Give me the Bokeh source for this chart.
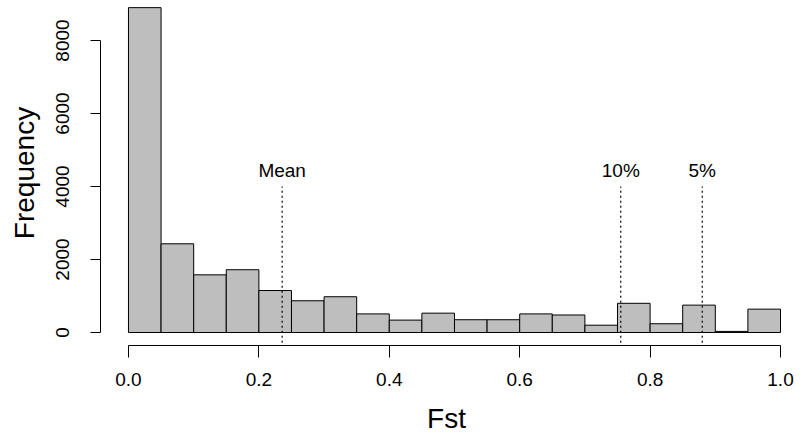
from bokeh.plotting import figure
from bokeh.models import FixedTicker, PrintfTickFormatter, ColumnDataSource, Range1d
from bokeh.core.properties import value
from bokeh.embed import file_html
from bokeh.resources import INLINE

# Histogram of Fst (bin width 0.05)
bin_left = [0.00, 0.05, 0.10, 0.15, 0.20, 0.25, 0.30, 0.35, 0.40, 0.45,
            0.50, 0.55, 0.60, 0.65, 0.70, 0.75, 0.80, 0.85, 0.90, 0.95]
bin_right = [0.05, 0.10, 0.15, 0.20, 0.25, 0.30, 0.35, 0.40, 0.45, 0.50,
             0.55, 0.60, 0.65, 0.70, 0.75, 0.80, 0.85, 0.90, 0.95, 1.00]
counts = [8900, 2430, 1580, 1720, 1150, 870, 980, 510, 340, 530,
          350, 350, 510, 480, 200, 800, 240, 750, 30, 640]

# Reference lines
ref_names = ["Mean", "10%", "5%"]
ref_x = [0.2357, 0.755, 0.880]
ref_top = [4000, 4000, 4000]
ref_bottom = [-280, -280, -280]

x_ticks = [0.0, 0.2, 0.4, 0.6, 0.8, 1.0]
y_ticks = [0, 2000, 4000, 6000, 8000]

FONT = "Liberation Sans"

p = figure(width=800, height=440, output_backend="svg", toolbar_location=None,
           x_range=Range1d(-0.0429, 1.0184), y_range=Range1d(-356, 9096),
           min_border_left=100, min_border_right=8, min_border_top=0,
           min_border_bottom=95)
p.outline_line_color = None
p.xgrid.visible = False
p.ygrid.visible = False
p.background_fill_color = "white"
p.border_fill_color = "white"

src = ColumnDataSource(dict(left=bin_left, right=bin_right, top=counts,
                            bottom=[0] * len(counts)))
p.quad(left="left", right="right", top="top", bottom="bottom", source=src,
       fill_color="#BEBEBE", line_color="black", line_width=1)

lsrc = ColumnDataSource(dict(x=ref_x, y0=ref_bottom, y1=ref_top, name=ref_names))
p.segment(x0="x", y0="y0", x1="x", y1="y1", source=lsrc, line_color="black",
          line_width=1.2, line_dash="2 3")
p.text(x="x", y="y1", text="name", source=lsrc, text_align="center",
       text_baseline="alphabetic", y_offset=-16, text_font=value(FONT),
       text_font_size="19px", text_color="black")

for ax in (p.xaxis[0], p.yaxis[0]):
    ax.axis_line_color = "black"
    ax.major_tick_line_color = "black"
    ax.minor_tick_line_color = None
    ax.major_tick_in = 0
    ax.major_label_text_font = FONT
    ax.major_label_text_font_size = "19px"
    ax.major_label_text_color = "black"
    ax.axis_label_text_font = FONT
    ax.axis_label_text_font_style = "normal"
    ax.axis_label_text_font_size = "28px"
    ax.axis_label_text_color = "black"

xa = p.xaxis[0]
xa.ticker = FixedTicker(ticks=x_ticks)
xa.formatter = PrintfTickFormatter(format="%.1f")
xa.bounds = (0, 1)
xa.major_tick_out = 12
xa.major_label_standoff = 15
xa.axis_label = "Fst"
xa.axis_label_standoff = 14

ya = p.yaxis[0]
ya.ticker = FixedTicker(ticks=y_ticks)
ya.formatter = PrintfTickFormatter(format="%d")
ya.bounds = (0, 8000)
ya.major_tick_out = 10
ya.major_label_orientation = "vertical"
ya.major_label_standoff = 21
ya.axis_label = "Frequency"
ya.axis_label_standoff = 14

open("out.html", "w").write(file_html(p, INLINE))
